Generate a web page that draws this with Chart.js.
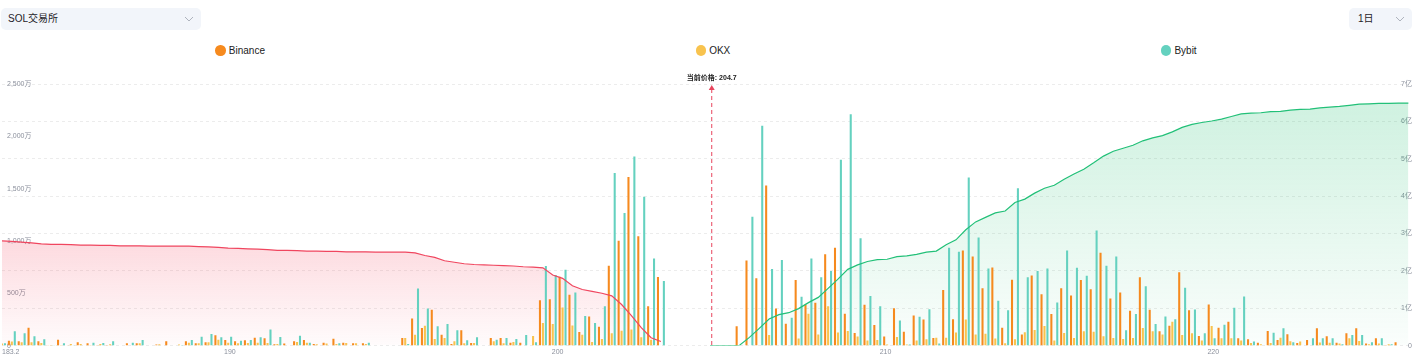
<!DOCTYPE html>
<html>
<head>
<meta charset="utf-8">
<script src="https://cdn.jsdelivr.net/npm/chart.js@4/dist/chart.umd.min.js"></script>
<style>
    body { margin: 0; width: 1412px; height: 362px; background: #fff; position: relative; overflow: hidden;
           font-family: Arial, "Liberation Sans", "Noto Sans CJK SC", sans-serif; color: #1f2329; }
    .select { position: absolute; top: 8px; height: 22px; background: #f2f5fa; border-radius: 5px;
              font-size: 10px; line-height: 22px; box-sizing: border-box; padding-left: 7px; }
    .select svg { position: absolute; top: 8px; }
    #exchangeSelect { left: 1px; width: 200px; }
    #exchangeSelect svg { left: 183px; }
    #periodSelect { left: 1349px; width: 63px; padding-left: 9px; }
    #periodSelect svg { left: 46px; }
    #legend { position: absolute; top: 44px; left: 0; width: 1412px; display: flex; justify-content: space-around;
              font-size: 10px; line-height: 13px; color: #222; }
    #legend .item { display: flex; align-items: center; }
    #legend .dot { width: 10.5px; height: 10.5px; border-radius: 50%; margin-right: 3px; }
    .chart-wrap { position: absolute; top: 62px; left: 0; width: 1412px; height: 300px; }
</style>
</head>
<body>
<div class="select" id="exchangeSelect">SOL交易所<svg width="10" height="6"><polyline points="1,1 5,5 9,1" fill="none" stroke="#aeb3bd" stroke-width="1"/></svg></div>
<div class="select" id="periodSelect">1日<svg width="10" height="6"><polyline points="1,1 5,5 9,1" fill="none" stroke="#aeb3bd" stroke-width="1"/></svg></div>
<div id="legend"></div>
<div class="chart-wrap"><canvas id="depthChart"></canvas></div>

<script>
// price buckets (0.3 wide) and axis labels
const priceLevels = Array.from({ length: 144 }, (_, i) => +(183.05 + i * 0.3).toFixed(2));
const currentPrice = 204.7;
const xTickValues = [190, 200, 210, 220];
const xTickLabels = ['183.2', '190', '200', '210', '220'];

const exchanges = ['Binance', 'OKX', 'Bybit'];
const exchangeColors = ['#f68a1e', '#f8c34e', '#64d1bf'];

// volume per bucket, 万
const binanceBars = [0,
    47, 41, 171, 41, 3, 57, 3, 32, 22, 5,
    5, 0, 22, 22, 0, 10, 41, 0, 41, 22,
    32, 98, 54, 41, 51, 76, 70, 13, 19, 41,
    54, 16, 28, 66, 28, 22, 22, 0, 0, 0,
    73, 260, 168, 342, 104, 16, 146, 25, 0, 73,
    73, 28, 28, 0, 434, 443, 659, 485, 130, 279,
    181, 763, 1001, 1612, 1045, 377, 656, null, null, null,
    null, null, null, null, 184, 814, 643, 1530, 355, 209,
    627, 393, 409, 874, 934, 304, 120, 390, 196, 86,
    358, 133, 288, 250, 73, 532, 253, 909, 852, 548,
    747, 171, 630, 105, 671, 491, 301, 548, 478, 627,
    538, 887, 450, 507, 333, 652, 342, 136, 190, 700,
    339, 92, 393, 171, 228, 70, 60, 28, 139, 54,
    108, 25, 54, 165, 89, 28, 117, 165, 19, 70,
    6, 32, null];
const okxBars = [20,
    38, 32, 32, 25, 5, 5, 16, 16, 5, 16,
    13, 0, 0, 22, 0, 13, 0, 10, 28, 22,
    32, 57, 28, 22, 25, 28, 25, 16, 0, 35,
    28, 13, 19, 16, 25, 22, 16, 0, 0, 0,
    73, 104, 190, 63, 73, 41, 22, 25, 0, 41,
    22, 35, 0, 92, 215, 206, 364, 193, 104, 35,
    63, 117, 143, 155, 79, 57, 0, null, null, null,
    null, null, null, null, 0, 0, 0, 101, 0, 0,
    67, 304, 105, 377, 124, 139, 86, 48, 54, 10,
    82, 10, 48, 60, 76, 76, 124, 250, 105, 114,
    67, 22, 60, 127, 149, 187, 48, 120, 73, 136,
    133, 89, 73, 63, 73, 168, 136, 105, 228, 101,
    117, 48, 187, 70, 70, 48, 25, 13, 25, 76,
    41, 38, 0, 30, 28, 19, 70, 44, 13, 19,
    13, 0, null];
const bybitBars = [22,
    136, 117, 89, 60, 3, 22, 3, 0, 28, 25,
    41, 0, 28, 54, 0, 0, 0, 5, 54, 85,
    111, 79, 85, 47, 54, 79, 155, 82, 0, 95,
    28, 0, 0, 22, 0, 0, 28, 0, 0, 0,
    16, 545, 355, 184, 206, 146, 51, 79, 0, 57,
    73, 63, 101, 32, 760, 674, 725, 507, 282, 215,
    377, 1650, 1267, 1808, 1422, 833, 618, null, null, null,
    null, null, null, null, 0, 1232, 2100, 732, 817, 266,
    466, 833, 652, 713, 1776, 2210, 1026, 475, 377, 0,
    241, 10, 276, 348, 19, 934, 896, 1606, 1032, 738,
    428, 339, 1504, 652, 713, 738, 412, 909, 744, 668,
    1099, 763, 852, 146, 301, 567, 206, 279, 253, 554,
    345, 117, 70, 200, 361, 469, 38, 0, 123, 165,
    32, 0, 70, 70, 70, 13, 101, 101, 32, 70,
    13, 0, null];

// cumulative depth, 亿 (bids: first bucket .. last bucket below price; asks: from bucket index 72)
const bidDepth = [2.80, 2.79, 2.77, 2.75, 2.72, 2.71, 2.71, 2.70, 2.69, 2.69,
    2.68, 2.68, 2.67, 2.67, 2.67, 2.66, 2.66, 2.66, 2.66, 2.66,
    2.65, 2.64, 2.63, 2.61, 2.60, 2.59, 2.58, 2.57, 2.55, 2.55,
    2.54, 2.53, 2.53, 2.52, 2.52, 2.51, 2.51, 2.51, 2.50, 2.50,
    2.50, 2.50, 2.48, 2.41, 2.36, 2.27, 2.23, 2.19, 2.17, 2.16,
    2.15, 2.14, 2.13, 2.11, 2.10, 2.08, 1.89, 1.80, 1.60, 1.50,
    1.45, 1.40, 1.33, 1.10, 0.80, 0.48, 0.21, 0.11];
const askStartIndex = 72;
const askDepth = [0.00, 0.00, 0.00, 0.01, 0.22, 0.46, 0.71, 0.83, 0.88, 0.99,
    1.15, 1.29, 1.53, 1.78, 2.04, 2.16, 2.25, 2.30, 2.31, 2.38,
    2.40, 2.44, 2.50, 2.53, 2.70, 2.83, 3.10, 3.31, 3.43, 3.55,
    3.60, 3.83, 3.92, 4.08, 4.21, 4.29, 4.45, 4.59, 4.72, 4.89,
    5.07, 5.20, 5.28, 5.36, 5.48, 5.56, 5.62, 5.72, 5.84, 5.92,
    5.97, 6.01, 6.06, 6.13, 6.20, 6.22, 6.23, 6.26, 6.27, 6.30,
    6.32, 6.33, 6.36, 6.38, 6.40, 6.43, 6.46, 6.47, 6.48, 6.48,
    6.49, 6.49];

const axisColor = '#8b909c';
const bidColor = 'rgb(240, 70, 95)';
const askColor = 'rgb(34, 192, 120)';

// legend
document.getElementById('legend').innerHTML = exchanges.map((name, i) => `
    <span class="item"><span class="dot" style="background:${exchangeColors[i]}"></span>${name}</span>
`).join('');

// fill fading from the top of the curve down to zero
function depthGradient(values, rgb, alphaTop, alphaBottom) {
    return function(context) {
        const { chart } = context;
        const { ctx, chartArea, scales } = chart;
        if (!chartArea) return null;
        const top = scales.y1.getPixelForValue(Math.max(...values));
        const g = ctx.createLinearGradient(0, top, 0, chartArea.bottom);
        g.addColorStop(0, `rgba(${rgb}, ${alphaTop})`);
        g.addColorStop(1, `rgba(${rgb}, ${alphaBottom})`);
        return g;
    };
}

const currentPriceMarker = {
    id: 'currentPriceMarker',
    afterDatasetsDraw(chart) {
        const { ctx, chartArea, scales } = chart;
        const x = scales.x.getPixelForValue(currentPrice);
        const top = chartArea.top;
        ctx.save();
        ctx.strokeStyle = '#e8455e';
        ctx.lineWidth = 1;
        ctx.setLineDash([4, 3]);
        ctx.beginPath();
        ctx.moveTo(x, top + 5);
        ctx.lineTo(x, chartArea.bottom);
        ctx.stroke();
        ctx.setLineDash([]);
        ctx.fillStyle = '#e8455e';
        ctx.beginPath();
        ctx.moveTo(x, top + 1);
        ctx.lineTo(x - 3, top + 6);
        ctx.lineTo(x + 3, top + 6);
        ctx.closePath();
        ctx.fill();
        ctx.font = 'bold 7px Arial, "Liberation Sans", "Noto Sans CJK SC", sans-serif';
        ctx.fillStyle = '#222';
        ctx.textAlign = 'center';
        ctx.textBaseline = 'middle';
        ctx.fillText('当前价格: ' + currentPrice, x, top - 6);
        ctx.restore();
    }
};

Chart.defaults.font.family = 'Arial, "Liberation Sans", "Noto Sans CJK SC", sans-serif';

const barSets = [binanceBars, okxBars, bybitBars].map((data, i) => ({
    label: exchanges[i],
    data: data,
    backgroundColor: exchangeColors[i],
    yAxisID: 'y',
    categoryPercentage: 0.9,
    barPercentage: 0.7,
    order: 1
}));

new Chart(document.getElementById('depthChart'), {
    type: 'bar',
    data: {
        labels: priceLevels,
        datasets: [
            {
                type: 'line',
                label: 'bids',
                data: bidDepth.map((v, i) => ({ x: priceLevels[i], y: v })),
                yAxisID: 'y1',
                borderColor: bidColor,
                borderWidth: 1.2,
                pointRadius: 0,
                fill: 'origin',
                backgroundColor: depthGradient(bidDepth, '245, 70, 95', 0.2, 0.02),
                order: 0
            },
            {
                type: 'line',
                label: 'asks',
                data: askDepth.map((v, i) => ({ x: priceLevels[i + askStartIndex], y: v })),
                yAxisID: 'y1',
                borderColor: askColor,
                borderWidth: 1.2,
                pointRadius: 0,
                fill: 'origin',
                backgroundColor: depthGradient(askDepth, '30, 190, 110', 0.21, 0.02),
                order: 0
            },
            ...barSets
        ]
    },
    options: {
        responsive: true,
        maintainAspectRatio: false,
        animation: false,
        layout: { padding: { top: 22, bottom: 4, left: 0, right: 0 } },
        scales: {
            x: {
                type: 'linear',
                offset: false,
                min: 183.05,
                max: 226.0,
                grid: { display: false, drawTicks: false, offset: false },
                border: { display: false },
                afterBuildTicks: scale => {
                    scale.ticks = [scale.min, ...xTickValues, scale.max].map(v => ({ value: v }));
                },
                ticks: {
                    autoSkip: false,
                    maxRotation: 0,
                    align: 'inner',
                    padding: 2,
                    color: axisColor,
                    font: { size: 7 },
                    callback: (value, index) => xTickLabels[index] || ''
                }
            },
            y: {
                position: 'left',
                min: 0,
                max: 2500,
                grid: { display: false, drawTicks: false },
                border: { display: false },
                afterFit: scale => { scale.width = 0; },
                ticks: {
                    stepSize: 500,
                    mirror: true,
                    padding: 5,
                    color: axisColor,
                    font: { size: 7 },
                    callback: v => v === 0 ? '0' : v.toLocaleString('en-US') + '万'
                }
            },
            y1: {
                position: 'right',
                min: 0,
                max: 7,
                grid: { color: '#ececec', drawTicks: false },
                border: { display: false, dash: [3, 3] },
                afterFit: scale => { scale.width = 0; },
                ticks: {
                    stepSize: 1,
                    mirror: true,
                    padding: 2,
                    color: axisColor,
                    font: { size: 7 },
                    callback: v => v === 0 ? '0' : v + '亿'
                }
            }
        },
        plugins: {
            legend: { display: false },
            tooltip: { enabled: false },
            filler: { drawTime: 'beforeDatasetsDraw' }
        }
    },
    plugins: [currentPriceMarker]
});
</script>
</body>
</html>
